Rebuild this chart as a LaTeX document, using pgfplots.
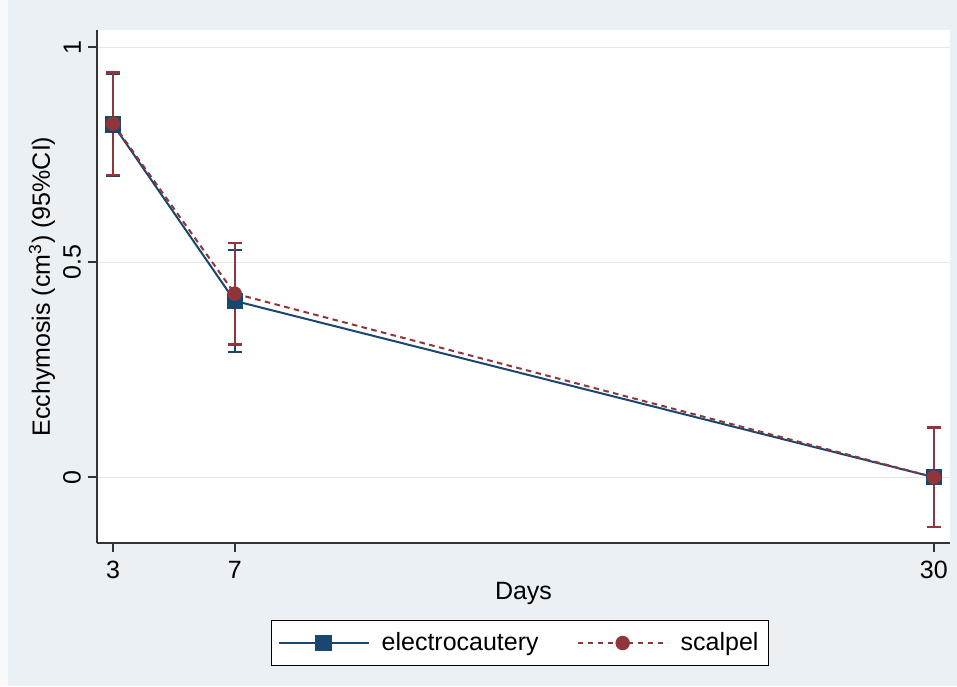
\documentclass[border=0pt]{standalone}
\usepackage{pgfplots}
\pgfplotsset{compat=1.18}
\usepackage{fontspec}
\setmainfont{Liberation Sans}
\definecolor{bg}{HTML}{EAF0F3}
\definecolor{navy}{HTML}{1A476F}
\definecolor{maroon}{HTML}{90353B}
\definecolor{gridc}{HTML}{E6E6E6}
\begin{document}
\begin{tikzpicture}
\fill[bg] (-48.5pt,-71.5pt) rectangle (430pt,271.5pt);
\fill[white!60!bg] (-48.5pt,-71.5pt) rectangle (-44.5pt,271.5pt);
\begin{axis}[
  at={(0,0)}, anchor=south west,
  width=426.5pt, height=256.5pt, scale only axis,
  xmin=2.47, xmax=30.53, ymin=-0.153, ymax=1.04,
  axis background/.style={fill=white},
  axis x line*=bottom, axis y line*=left,
  axis line style={black!80, line width=0.8pt},
  xtick={3,7,30}, ytick={0,0.5,1},
  xticklabels={3,7,30},
  yticklabels={0,0.5,1},
  /pgf/number format/assume math mode=true,
  tick align=outside, major tick length=4.5pt,
  tick style={black!80, line width=0.8pt},
  ymajorgrids, grid style={gridc, line width=0.6pt},
  font=\fontsize{12.5}{15}\selectfont,
  tick label style={font=\fontsize{12.5}{15}\selectfont},
  xticklabel style={yshift=-1pt},
  yticklabel style={rotate=90, anchor=south},
  xlabel={Days},
  ylabel={Ecchymosis (cm\textsuperscript{3}) (95\%CI)},
  xlabel style={at={(axis description cs:0.5,-0.0975)}, anchor=center},
  ylabel style={at={(axis description cs:-0.0645,0.5)}, anchor=center},
  legend columns=2,
  legend style={at={(axis description cs:0.496,-0.195)}, anchor=center,
    draw=black, line width=0.8pt, fill=white,
    font=\fontsize{12.5}{15}\selectfont,
    inner xsep=3pt, inner ysep=4pt,
    /tikz/every even column/.append style={column sep=17pt},
    /tikz/every odd column/.append style={column sep=4pt}},
  legend image code/.code={
    \draw[mark repeat=2, mark phase=2, #1] plot coordinates {(0pt,0pt) (22.5pt,0pt) (45pt,0pt)};},
  clip=false,
]
\addplot[navy, line width=1pt, mark=square*, mark size=3.6pt, mark options={solid, fill=navy},
  error bars/.cd, y dir=both, y explicit,
  error bar style={navy, line width=1.2pt, solid},
  error mark options={rotate=90, mark size=3.4pt, navy, line width=1.2pt, solid}]
  coordinates {
  (3,0.820) +- (0,0.118)
  (7,0.410) +- (0,0.119)
  (30,0.000) +- (0,0.116)
  };
\addlegendentry{electrocautery}
\addplot[maroon, line width=1pt, dash pattern=on 2.8pt off 2.2pt, mark=*, mark size=3.1pt, mark options={solid, fill=maroon},
  error bars/.cd, y dir=both, y explicit,
  error bar style={maroon, line width=1.2pt, solid},
  error mark options={rotate=90, mark size=3.4pt, maroon, line width=1.2pt, solid}]
  coordinates {
  (3,0.822) +- (0,0.119)
  (7,0.427) +- (0,0.118)
  (30,0.000) +- (0,0.116)
  };
\addlegendentry{scalpel}
\end{axis}
\end{tikzpicture}
\end{document}
